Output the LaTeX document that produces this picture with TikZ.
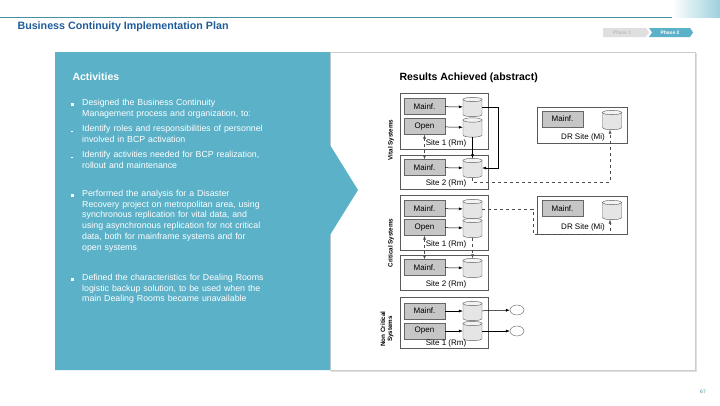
\documentclass[tikz,border=0pt]{standalone}
\usepackage{fontspec}
\setmainfont{Liberation Sans}
\usetikzlibrary{arrows.meta,shapes.geometric}
\definecolor{teal}{HTML}{5BB1C8}
\definecolor{ttl}{HTML}{1F5C9A}
\newcommand{\mycyl}[3]{%
 \node[minimum width=19pt,minimum height=19pt,inner sep=0pt] (#1) at (#2,#3) {};
 \draw[gray!70!black,fill=gray!20] (#2-9.5,#3-7.5) -- (#2-9.5,#3+7.5) arc[start angle=180,end angle=360,x radius=9.5pt,y radius=2.2pt] -- (#2+9.5,#3-7.5) -- cycle;
 \draw[gray!70!black,fill=gray!10] (#2,#3-7.5) ellipse (9.5pt and 2.2pt);}
\begin{document}
\begin{tikzpicture}[x=1pt,y=-1pt,
 box/.style={draw=gray!80!black,fill=gray!45,minimum width=41pt,minimum height=16pt,inner sep=0pt,font=\fontsize{8}{9}\selectfont},
 site/.style={draw=gray!70!black,fill=white},
 lbl/.style={font=\fontsize{8}{9}\selectfont},
 arr/.style={-{Latex[length=4pt,width=3pt]},line width=0.5pt},
 darr/.style={arr,dashed,gray!60!black},
 bul/.style={anchor=north west,text width=235pt,align=left,font=\fontsize{8.8}{10.7}\selectfont,text=white,inner sep=0pt}]
\useasboundingbox (0,0) rectangle (720,405);
\fill[white] (0,0) rectangle (720,405);
% header
\shade[left color=white,right color=teal!60] (672,0) rectangle (720,17);
\draw[teal!80!black,line width=0.8pt] (0,17) -- (672,17);
\node[anchor=west,font=\bfseries\fontsize{10.7}{12}\selectfont,text=ttl] (title) at (14,27) {Business Continuity Implementation Plan};
\fill[gray!25] (603,28) -- (646,28) -- (649,32.5) -- (646,37) -- (603,37) -- cycle;
\node[font=\fontsize{5}{6}\selectfont,text=gray!60] (p1) at (622,32.5) {Phase 1};
\fill[teal] (649,28) -- (690,28) -- (693,32.5) -- (690,37) -- (649,37) -- (652,32.5) -- cycle;
\node[font=\bfseries\fontsize{5}{6}\selectfont,text=white] (p2) at (670,32.5) {Phase 2};
% right panel
\fill[gray!25] (331,53) rectangle (697,372);
\draw[fill=white,draw=gray!40] (330,52) rectangle (695,370);
% left panel
\fill[teal] (55,52) -- (330,52) -- (330,145) -- (358,190) -- (330,235) -- (330,370) -- (55,370) -- cycle;
\node[anchor=west,font=\bfseries\fontsize{10.5}{12}\selectfont,text=white] (act) at (69,77) {Activities};
\node[bul] (b1) at (82,99) {Designed the Business Continuity\\Management process and organization, to:};
\node[bul] (b1a) at (82,125) {Identify roles and responsibilities of personnel\\involved in BCP activation};
\node[bul] (b1b) at (82,151) {Identify activities needed for BCP realization,\\rollout and maintenance};
\node[bul] (b2) at (82,190) {Performed the analysis for a Disaster\\Recovery project on metropolitan area, using\\synchronous replication for vital data, and\\using asynchronous replication for not critical\\data, both for mainframe systems and for\\open systems};
\node[bul] (b3) at (82,274) {Defined the characteristics for Dealing Rooms\\logistic backup solution, to be used when the\\main Dealing Rooms became unavailable};
\foreach \y in {104.5,195.5,279.5}{\fill[white] (70.5,\y-1.5) rectangle (73.5,\y+1.5);}
\foreach \y in {131,157}{\fill[white] (70.5,\y) rectangle (72.5,\y+0.8);}
% diagram
\node[anchor=west,font=\bfseries\fontsize{10.5}{12}\selectfont] (res) at (396,78) {Results Achieved (abstract)};
\draw[site] (400,93) rectangle (488,149);
\draw[site] (400,155) rectangle (488,189);
\draw[site] (400,195) rectangle (488,250);
\draw[site] (400,255) rectangle (488,290);
\draw[site] (400,297) rectangle (488,348);
\draw[site] (537,107) rectangle (627,143);
\draw[site] (537,196) rectangle (627,234);
\node[box] (vm1) at (424.5,106.5) {Mainf.};
\node[box] (vo1) at (424.5,126.5) {Open};
\node[box] (vm2) at (424.5,167.5) {Mainf.};
\node[box] (cm1) at (424.5,208.5) {Mainf.};
\node[box] (co1) at (424.5,227.5) {Open};
\node[box] (cm2) at (424.5,267.5) {Mainf.};
\node[box] (nm1) at (424.5,311) {Mainf.};
\node[box] (no1) at (424.5,331) {Open};
\node[box] (dm1) at (562.5,119) {Mainf.};
\node[box] (dm2) at (562.5,208.5) {Mainf.};
\mycyl{vc1}{472.5}{107}
\mycyl{vc2}{472.5}{127.5}
\mycyl{vc3}{472.5}{168}
\mycyl{cc1}{472.5}{209}
\mycyl{cc2}{472.5}{228}
\mycyl{cc3}{472.5}{268}
\mycyl{nc1}{472.5}{311}
\mycyl{nc2}{472.5}{331}
\mycyl{dc1}{612}{120}
\mycyl{dc2}{612}{210}
\node[lbl] (s1) at (446,143) {Site 1 (Rm)};
\node[lbl] (s2) at (446,183.5) {Site 2 (Rm)};
\node[lbl] (s3) at (446,244) {Site 1 (Rm)};
\node[lbl] (s4) at (446,284) {Site 2 (Rm)};
\node[lbl] (s5) at (446,343) {Site 1 (Rm)};
\node[lbl] (d1) at (583,137) {DR Site (Mi)};
\node[lbl] (d2) at (583,227.5) {DR Site (Mi)};
\node[font=\bfseries\fontsize{6.3}{7}\selectfont,rotate=90] (vs) at (391,140) {Vital Systems};
\node[font=\bfseries\fontsize{6.3}{7}\selectfont,rotate=90] (cs) at (391,243) {Critical Systems};
\node[font=\bfseries\fontsize{6.3}{7}\selectfont,rotate=90,align=center] (ns) at (387,329) {Non Critical\\Systems};
\node[ellipse,draw=gray!70!black,minimum width=14pt,minimum height=10pt,inner sep=0pt] (cl1) at (517,310) {};
\node[ellipse,draw=gray!70!black,minimum width=14pt,minimum height=10pt,inner sep=0pt] (cl2) at (517,331) {};
\foreach \a/\b in {vm1/vc1,vo1/vc2,vm2/vc3,cm1/cc1,co1/cc2,cm2/cc3,nm1/nc1,no1/nc2}{\draw[arr] (\a) -- (\b);}
\draw[arr] (nc1) -- (cl1);
\draw[arr] (nc2) -- (cl2);
\draw[arr] (vc1.east) -- (498,107) -- (498,168) -- (vc3.east);
\draw[arr] (vc2.south) -- (vc3.north);
\draw[darr,{Latex[length=4pt,width=3pt]}-{Latex[length=4pt,width=3pt]}] (vo1.south) -- (vm2.north);
\draw[darr,{Latex[length=4pt,width=3pt]}-{Latex[length=4pt,width=3pt]}] (co1.south) -- (cm2.north);
\draw[darr] (vc3.south) -- (472.5,182) -- (610,182) -- (610,129.7);
\draw[darr] (cc1.east) -- (533,209) -- (533,234) -- (610,234) -- (610,219.7);
\draw[darr] (cc2.south) -- (cc3.north);
\node[font=\fontsize{5}{6}\selectfont,text=teal!80!black] (pg) at (703,392) {67};
\end{tikzpicture}
\end{document}
